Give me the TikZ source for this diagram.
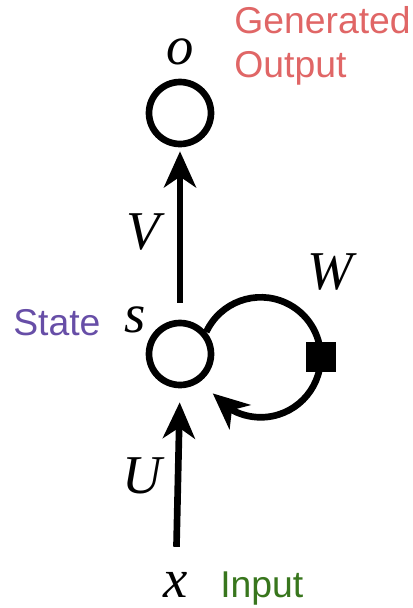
\documentclass[tikz,border=0pt]{standalone}
\usepackage{fontspec}
\setmainfont{Liberation Serif}
\newfontfamily\notefont{Liberation Sans}
\usetikzlibrary{arrows.meta,bending}

\definecolor{outred}{HTML}{E06666}
\definecolor{statepurple}{HTML}{674EA7}
\definecolor{ingreen}{HTML}{38761D}

\tikzset{every picture/.style={line width=5pt}}
\tikzset{
  unit/.style={circle, draw, minimum size=46.5pt, inner sep=0pt},
  wsq/.style={fill=black, minimum size=22.5pt, inner sep=0pt},
  arr/.style={-{Stealth[length=27pt,width=24pt,inset=8pt]}},
  lbl/.style={font=\fontsize{41}{48}\selectfont\itshape, inner sep=0.75pt},
  note/.style={font=\notefont\fontsize{28}{33}\selectfont, inner sep=0pt}
}

\begin{document}
\begin{tikzpicture}[x=0.75pt,y=0.75pt,yscale=-1,xscale=1]
\useasboundingbox (0,0) rectangle (412,608);

%Shape: Circle [output unit]
\draw (180,113) node [unit] (out) {};
%Shape: Circle [state unit]
\draw (180,354) node [unit] (st) {};

% Text Node
\draw (180,52) node [lbl] (lo) {o};
% Text Node
\draw (143,232) node [lbl] (lV) {V};
% Text Node
\draw (135,320) node [lbl] (ls) {s};
% Text Node
\draw (330,272) node [lbl] (lW) {W};
% Text Node
\draw (142,476) node [lbl] (lU) {U};
% Text Node
\draw (176,585) node [lbl] (lx) {x};

% Text Node
\draw (231,77) node [note, text=outred, anchor=base west, align=left] (gen) {Generated\\Output};
% Text Node
\draw (10,335) node [note, text=statepurple, anchor=base west] (state) {State};
% Text Node
\draw (217,597) node [note, text=ingreen, anchor=base west] (input) {Input};

%Straight Lines
\draw [arr, shorten <=12.75pt, shorten >=3pt] (st.north) -- (out.south);
\draw [arr, shorten <=16pt, shorten >=10.5pt] (lx.north) -- (st.south);

%Curve Lines [recurrent loop]
\draw (st.40) arc [start angle=205, end angle=360, radius=60] node [wsq] (sq) {};
\draw [arr] (sq.center) arc [start angle=0, end angle=143, radius=60];

\end{tikzpicture}
\end{document}
